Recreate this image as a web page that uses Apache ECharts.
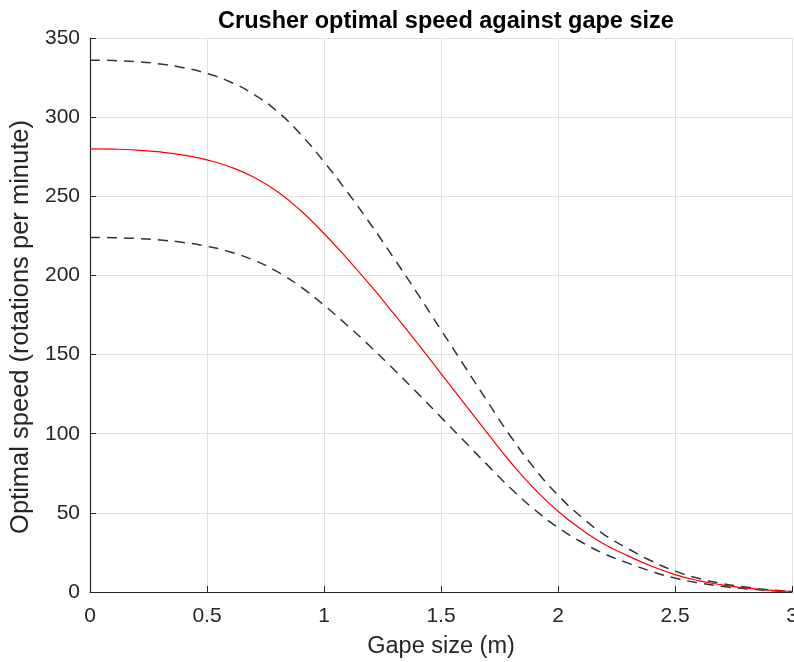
<!DOCTYPE html>
<html>
<head>
<meta charset="utf-8">
<script src="https://cdn.jsdelivr.net/npm/echarts@6/dist/echarts.min.js"></script>
<style>
html,body{margin:0;padding:0;background:#fff;}
#chart{width:794px;height:662px;}
</style>
</head>
<body>
<div id="chart"></div>
<script>
const gapeSize = [0,0.1,0.2,0.3,0.4,0.5,0.6,0.7,0.8,0.9,1.0,1.1,1.2,1.3,1.4,1.5,1.6,1.7,1.8,1.9,2.0,2.1,2.2,2.3,2.4,2.5,2.6,2.7,2.8,2.9,3.0];
const optimalSpeed = [280,279.8,279.2,278,276,273,268.5,262,253,241,226.5,210.5,193.5,175.5,157,138,119,100,81.5,65,51,39.5,30,22.8,16.3,11,7.2,4.5,2.6,1.2,0.3];
const upperSpeed = [336,335.76,335.04,333.6,331.2,327.6,322.2,314.4,303.6,289.2,271.8,252.6,232.2,210.6,188.4,165.6,142.8,120,97.8,78,61.2,47.4,36,27.36,19.56,13.2,8.64,5.4,3.12,1.44,0.36];
const lowerSpeed = [224,223.84,223.36,222.4,220.8,218.4,214.8,209.6,202.4,192.8,181.2,168.4,154.8,140.4,125.6,110.4,95.2,80,65.2,52,40.8,31.6,24,18.24,13.04,8.8,5.76,3.6,2.08,0.96,0.24];

const pairs = ys => gapeSize.map((x, i) => [x, ys[i]]);
const axisColor = '#262626';
const fontFam = '"Liberation Sans", Arial, sans-serif';

const chart = echarts.init(document.getElementById('chart'), null, {renderer: 'canvas'});
chart.setOption({
  animation: false,
  backgroundColor: '#fff',
  title: {
    text: 'Crusher optimal speed against gape size',
    left: 441, top: 5, textAlign: 'center',
    textStyle: {fontFamily: fontFam, fontWeight: 'bold', fontSize: 23.5, color: '#000'}
  },
  grid: {left: 90, right: 2, top: 38, bottom: 70, containLabel: false, outerBoundsMode: 'none'},
  xAxis: {
    type: 'value', min: 0, max: 3, interval: 0.5,
    name: 'Gape size (m)', nameLocation: 'middle', nameGap: 43,
    nameTextStyle: {fontFamily: fontFam, fontSize: 23.5, color: axisColor},
    axisLine: {show: true, lineStyle: {color: axisColor, width: 1.2}},
    axisTick: {show: true, inside: true, length: 6, lineStyle: {color: axisColor}},
    axisLabel: {fontFamily: fontFam, fontSize: 21, color: axisColor, margin: 14, showMaxLabel: true},
    splitLine: {show: true, lineStyle: {color: '#e1e1e1', width: 1}}
  },
  yAxis: {
    type: 'value', min: 0, max: 350, interval: 50,
    name: 'Optimal speed (rotations per minute)', nameLocation: 'middle', nameGap: 55,
    nameTextStyle: {fontFamily: fontFam, fontSize: 25.5, color: axisColor, padding: [0, 24, 0, 0]},
    axisLine: {show: true, lineStyle: {color: axisColor, width: 1.2}},
    axisTick: {show: true, inside: true, length: 6, lineStyle: {color: axisColor}},
    axisLabel: {fontFamily: fontFam, fontSize: 21, color: axisColor, margin: 10},
    splitLine: {show: true, lineStyle: {color: '#e1e1e1', width: 1}}
  },
  series: [
    {type: 'line', data: pairs(upperSpeed), smooth: 0.5, showSymbol: false,
     lineStyle: {color: '#333', width: 1.5, type: [10, 7]}},
    {type: 'line', data: pairs(lowerSpeed), smooth: 0.5, showSymbol: false,
     lineStyle: {color: '#333', width: 1.5, type: [10, 7]}},
    {type: 'line', data: pairs(optimalSpeed), smooth: 0.5, showSymbol: false,
     lineStyle: {color: '#ff0000', width: 1.2}}
  ]
});
</script>
</body>
</html>
